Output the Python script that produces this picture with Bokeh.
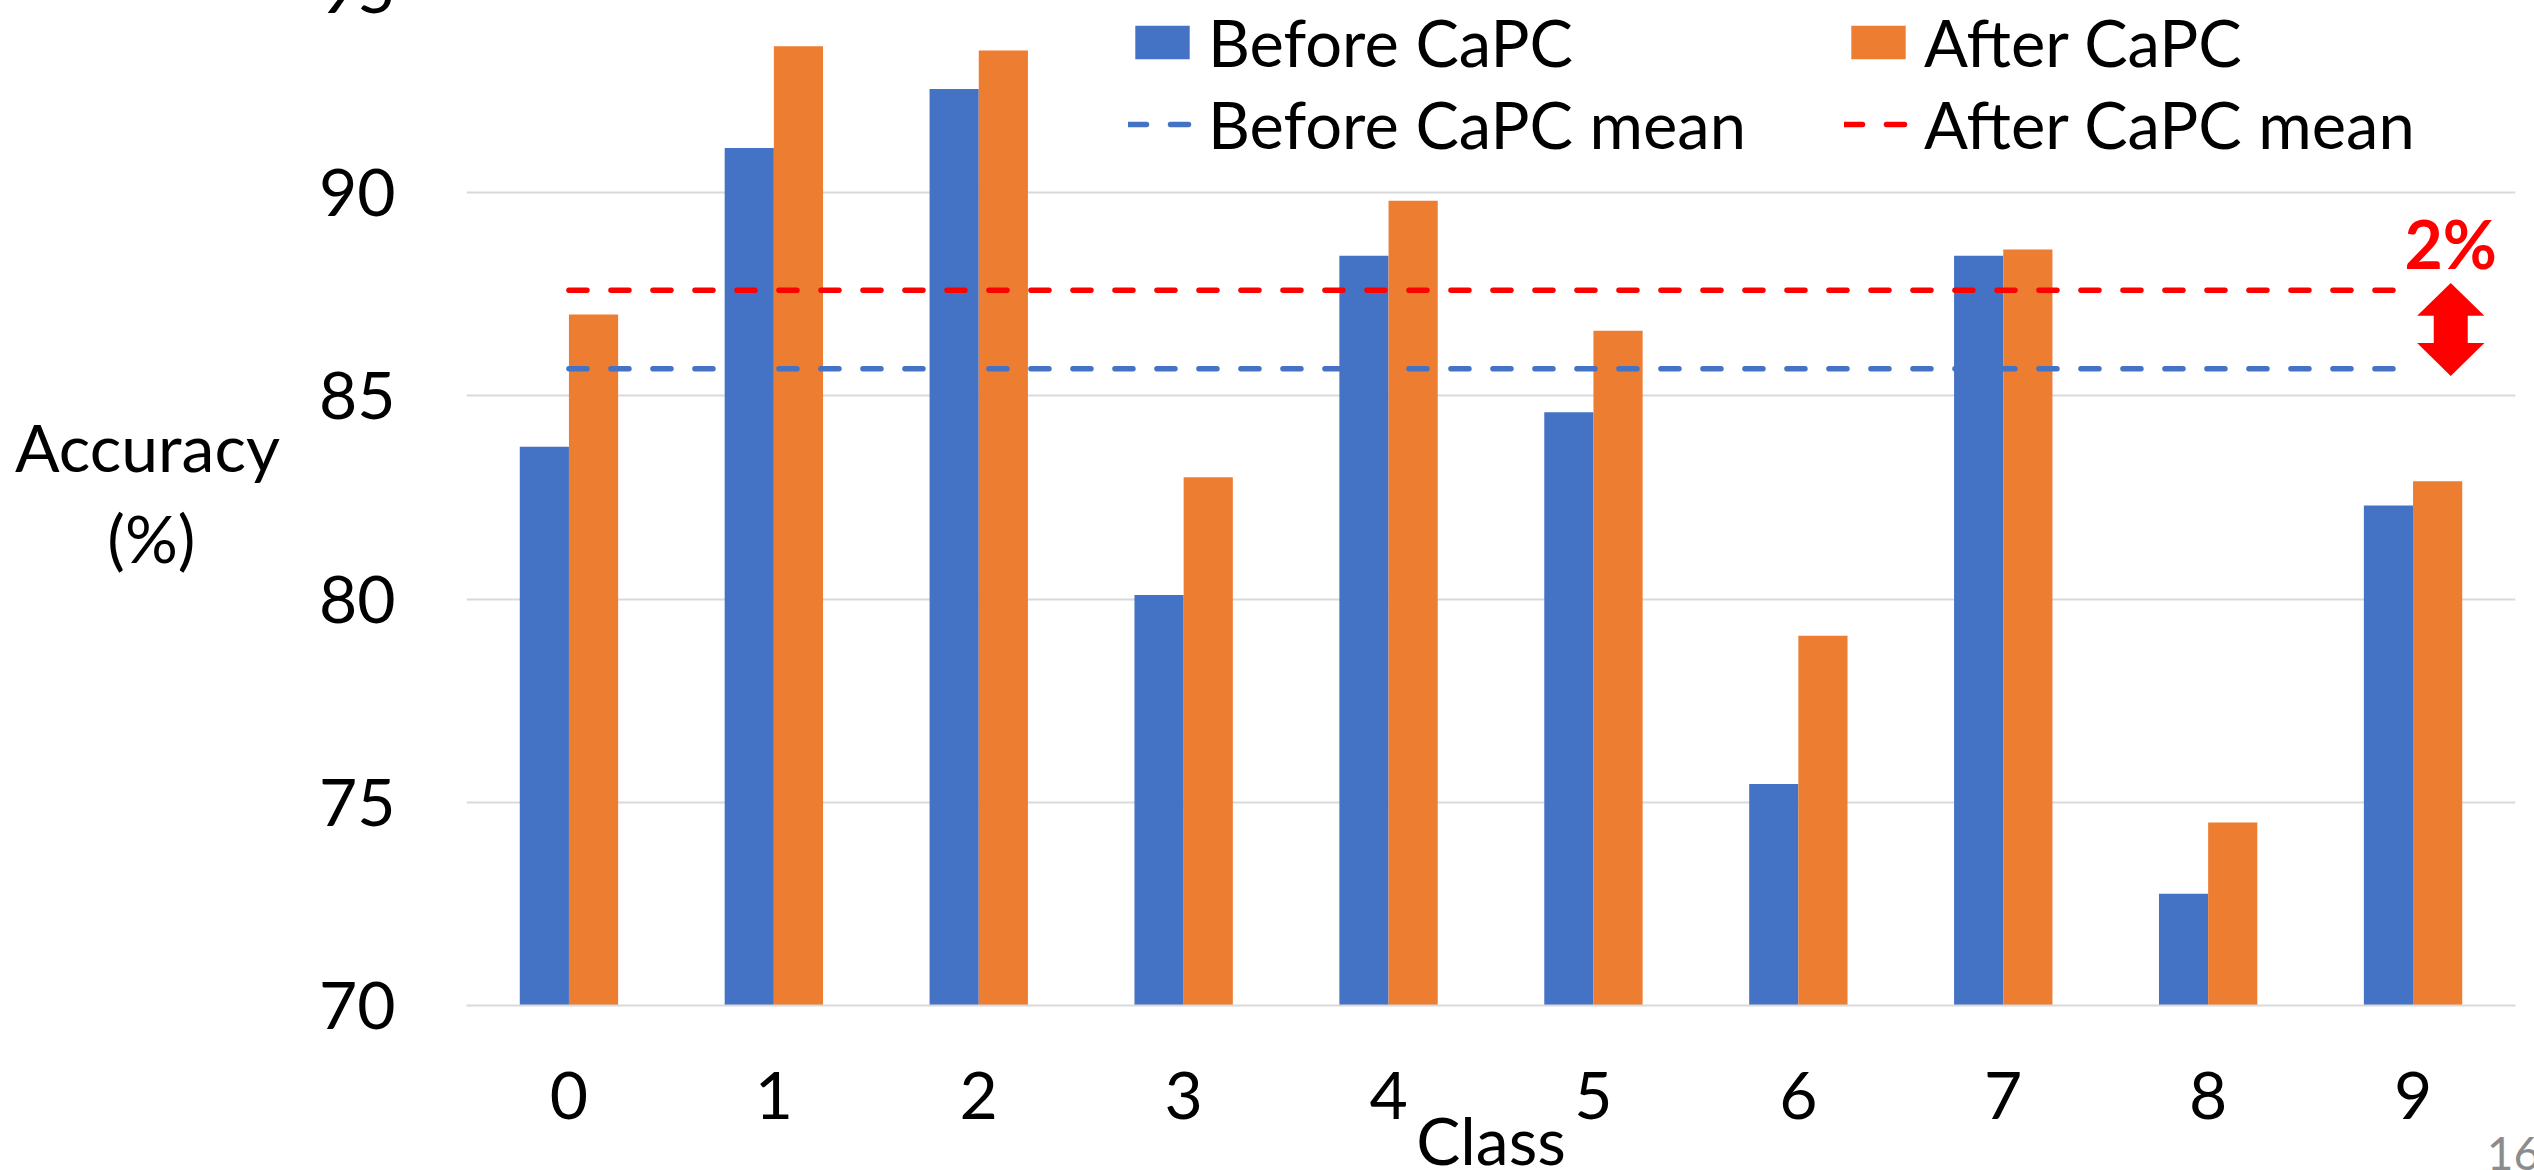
from bokeh.plotting import figure
from bokeh.models import (ColumnDataSource, Range1d, FixedTicker, Legend,
                          LegendItem, Label)
from bokeh.transform import dodge
from bokeh.embed import file_html
from bokeh.resources import INLINE

# ---- data ---------------------------------------------------------------
classes = [0, 1, 2, 3, 4, 5, 6, 7, 8, 9]
before_capc = [83.75, 91.1, 92.55, 80.1, 88.45, 84.6, 75.45, 88.45, 72.75, 82.3]
after_capc = [87.0, 93.6, 93.5, 83.0, 89.8, 86.6, 79.1, 88.6, 74.5, 82.9]
before_mean = 85.67
after_mean = 87.60
y_ticks = [70, 75, 80, 85, 90, 95]
gain_text = "2%"

# ---- style --------------------------------------------------------------
BLUE = "#4472C4"
ORANGE = "#ED7D31"
RED = "#FF0000"
GRID = "#D9D9D9"
FONT = "Lato"
FS = "66px"

W, H = 2534, 1170
# Two text rows live in the panel above the frame (66px + 46px tall); that
# panel and the very top of the frame are shifted off the page.
ABOVE = 112
TOP_CUT = 22 + ABOVE
Y0, Y1 = 70, 95.27

p = figure(width=W, height=H + TOP_CUT, output_backend="svg", toolbar_location=None,
           x_range=Range1d(-0.5, 9.5), y_range=Range1d(Y0, Y1),
           title_location=None,
           min_border_left=466, min_border_right=19,
           min_border_top=0, min_border_bottom=165)
p.margin = (-TOP_CUT, 0, 0, 0)
p.outline_line_color = None
p.background_fill_color = "white"
p.border_fill_color = "white"

# x axis
p.xaxis.ticker = FixedTicker(ticks=classes)
p.xaxis.axis_line_color = GRID
p.xaxis.axis_line_width = 2
p.xaxis.major_tick_out = 0
p.xaxis.major_tick_in = 0
p.xaxis.minor_tick_line_color = None
p.xaxis.major_label_standoff = 66
p.xaxis.major_label_text_font = FONT
p.xaxis.major_label_text_font_size = FS
p.xaxis.major_label_text_color = "black"

# y axis
p.yaxis.ticker = FixedTicker(ticks=y_ticks)
p.yaxis.axis_line_color = None
p.yaxis.major_tick_out = 0
p.yaxis.major_tick_in = 0
p.yaxis.minor_tick_line_color = None
p.yaxis.major_label_standoff = 71
p.yaxis.major_label_text_font = FONT
p.yaxis.major_label_text_font_size = FS
p.yaxis.major_label_text_color = "black"
p.yaxis.axis_label = "Accuracy\n(%)" + "\u00a0" * 5
p.yaxis.axis_label_orientation = "horizontal"
p.yaxis.axis_label_standoff = 36
p.yaxis.axis_label_text_font = FONT
p.yaxis.axis_label_text_font_size = FS
p.yaxis.axis_label_text_font_style = "normal"
p.yaxis.axis_label_text_color = "black"
p.yaxis.axis_label_text_line_height = 1.14

p.xgrid.visible = False
p.ygrid.ticker = FixedTicker(ticks=y_ticks)
p.ygrid.grid_line_color = GRID
p.ygrid.grid_line_width = 2

# bars
src = ColumnDataSource(dict(cls=classes, before=before_capc, after=after_capc))
r_before = p.vbar(x=dodge("cls", -0.12, range=p.x_range), top="before", bottom=Y0,
                  width=0.24, fill_color=BLUE, line_color=None, source=src)
r_after = p.vbar(x=dodge("cls", 0.12, range=p.x_range), top="after", bottom=Y0,
                 width=0.24, fill_color=ORANGE, line_color=None, source=src)

# mean lines across the class span
span = [classes[0], classes[-1]]
r_bm = p.line(span, [before_mean, before_mean], line_color=BLUE, line_width=5.5,
              line_dash="18 24", line_cap="round")
r_am = p.line(span, [after_mean, after_mean], line_color=RED, line_width=5.5,
              line_dash="18 24", line_cap="round")

# double-headed arrow marking the gap between the two means
ax = 9.184
hw, sw = 0.164, 0.083          # half widths of head and shaft (x units)
head = 0.81                    # head length (y units)
top = after_mean + 0.18
bot = before_mean - 0.18
arrow_x = [ax, ax + hw, ax + sw, ax + sw, ax + hw, ax, ax - hw, ax - sw, ax - sw, ax - hw]
arrow_y = [top, top - head, top - head, bot + head, bot + head, bot,
           bot + head, bot + head, top - head, top - head]
p.patch(arrow_x, arrow_y, fill_color=RED, line_color=None)

p.add_layout(Label(x=ax, y=88.76, text=gain_text, text_align="center",
                   text_baseline="alphabetic", text_font=FONT,
                   text_font_style="bold", text_font_size="66px",
                   text_color=RED))

# x-axis title and slide number, drawn from the top panel; y is measured
# upward from the bottom edge of each label's own panel row
p.add_layout(Label(x=4.5, y=-1161, x_units="data", y_units="screen",
                   text="Class", text_align="center", text_baseline="alphabetic",
                   text_font=FONT, text_font_size=FS, text_color="black"),
             "above")
p.add_layout(Label(x=9.36, y=-1254, x_units="data", y_units="screen",
                   text="16", text_align="left", text_baseline="alphabetic",
                   text_font=FONT, text_font_size="46px", text_color="#8C8C8C"),
             "above")

# legend
legend = Legend(
    items=[LegendItem(label="Before CaPC", renderers=[r_before]),
           LegendItem(label="After CaPC", renderers=[r_after]),
           LegendItem(label="Before CaPC mean", renderers=[r_bm]),
           LegendItem(label="After CaPC mean", renderers=[r_am])],
    location=(662, 842), orientation="horizontal", ncols=2,
    glyph_width=68, glyph_height=42, label_standoff=12, spacing=4,
    padding=0, margin=0, label_width=632,
    border_line_color=None, background_fill_alpha=0,
    label_text_font=FONT, label_text_font_size="65px", label_text_color="black")
p.add_layout(legend)

open("out.html", "w").write(file_html(p, INLINE))
